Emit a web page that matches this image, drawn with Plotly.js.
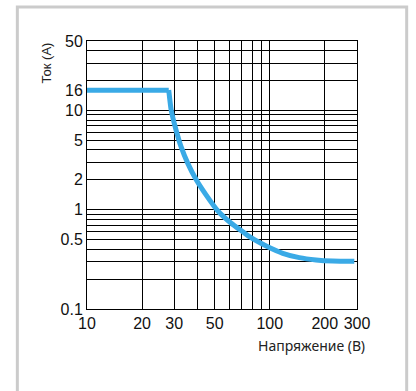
<!DOCTYPE html>
<html>
<head>
<meta charset="utf-8">
<script src="https://cdn.plot.ly/plotly-3.0.1.min.js"></script>
<style>html,body{margin:0;padding:0;background:#fff;}#chart{width:416px;height:391px;}</style>
</head>
<body>
<div id="chart"></div>
<script>
// Data
const voltage = [10, 28.0, 28.9, 30.7, 32.7, 35.6, 39.6, 44.9, 52, 61.5, 71.2, 77.4, 95.6, 117.8, 145, 179, 221, 290];
const current = [16, 16, 10, 6.35, 4.31, 2.93, 2.0, 1.4, 0.97, 0.73, 0.60, 0.535, 0.431, 0.364, 0.329, 0.312, 0.304, 0.302];
const flatEnd = 1; // index where the flat 16 A part ends

const xTickVals = [10, 20, 30, 50, 100, 200, 300];
const xTickText = ['10', '20', '30', '50', '100', '200', '300'];
const yTickVals = [0.1, 0.5, 1, 2, 5, 10, 16, 50];
const yTickText = ['0.1', '0.5', '1', '2', '5', '10', '16', '50'];

const xGrid = [20, 30, 40, 50, 60, 70, 80, 90, 100, 200];
const yGrid = [0.2, 0.3, 0.4, 0.5, 0.6, 0.7, 0.8, 0.9, 1, 2, 3, 4, 5, 6, 7, 8, 9, 10, 20, 30, 40];

const xTitle = 'Напряжение (В)';
const yTitle = 'Ток (А)';

const tickFont = {family: 'Liberation Sans, Arial, sans-serif', size: 16, color: '#111'};
const blue = '#3aaae6';

const traceFlat = {
  x: voltage.slice(0, flatEnd + 1), y: current.slice(0, flatEnd + 1),
  type: 'scatter', mode: 'lines',
  line: {color: blue, width: 5}, hoverinfo: 'skip'
};
const traceCurve = {
  x: voltage.slice(flatEnd), y: current.slice(flatEnd),
  type: 'scatter', mode: 'lines',
  line: {color: blue, width: 5, shape: 'spline', smoothing: 0.6}, hoverinfo: 'skip'
};

const layout = {
  width: 416, height: 391,
  margin: {l: 87, r: 59, t: 41, b: 82},
  paper_bgcolor: '#fff', plot_bgcolor: '#fff',
  showlegend: false,
  xaxis: {
    type: 'log', range: [1, Math.log10(300)],
    tickmode: 'array', tickvals: xTickVals, ticktext: xTickText,
    showgrid: false, zeroline: false, ticks: '',
    showline: true, mirror: true, linecolor: '#000', linewidth: 1,
    tickfont: tickFont,
    minor: {tickmode: 'array', tickvals: xGrid, showgrid: true, gridcolor: '#000', gridwidth: 1, ticks: ''}
  },
  yaxis: {
    type: 'log', range: [-1, Math.log10(50)],
    tickmode: 'array', tickvals: yTickVals, ticktext: yTickText,
    showgrid: false, zeroline: false, ticks: '',
    showline: true, mirror: true, linecolor: '#000', linewidth: 1,
    tickfont: tickFont,
    minor: {tickmode: 'array', tickvals: yGrid, showgrid: true, gridcolor: '#000', gridwidth: 1, ticks: ''}
  },
  shapes: [{
    type: 'rect', xref: 'paper', yref: 'paper', layer: 'below',
    x0: -0.258, x1: 1.184, y0: -0.33, y1: 1.127,
    line: {color: '#cbcbcb', width: 3}, fillcolor: 'rgba(0,0,0,0)'
  }],
  annotations: [
    {text: xTitle, xref: 'paper', yref: 'paper', x: 1.037, y: -0.136,
     xanchor: 'right', yanchor: 'middle', showarrow: false,
     font: {family: 'Noto Sans, sans-serif', size: 14, color: '#222'}},
    {text: yTitle, xref: 'paper', yref: 'paper', x: -0.152, y: 0.92,
     xanchor: 'center', yanchor: 'middle', showarrow: false, textangle: -90,
     font: {family: 'Liberation Sans, Arial, sans-serif', size: 13, color: '#222'}}
  ]
};

Plotly.newPlot('chart', [traceFlat, traceCurve], layout, {staticPlot: true, displayModeBar: false});
</script>
</body>
</html>
